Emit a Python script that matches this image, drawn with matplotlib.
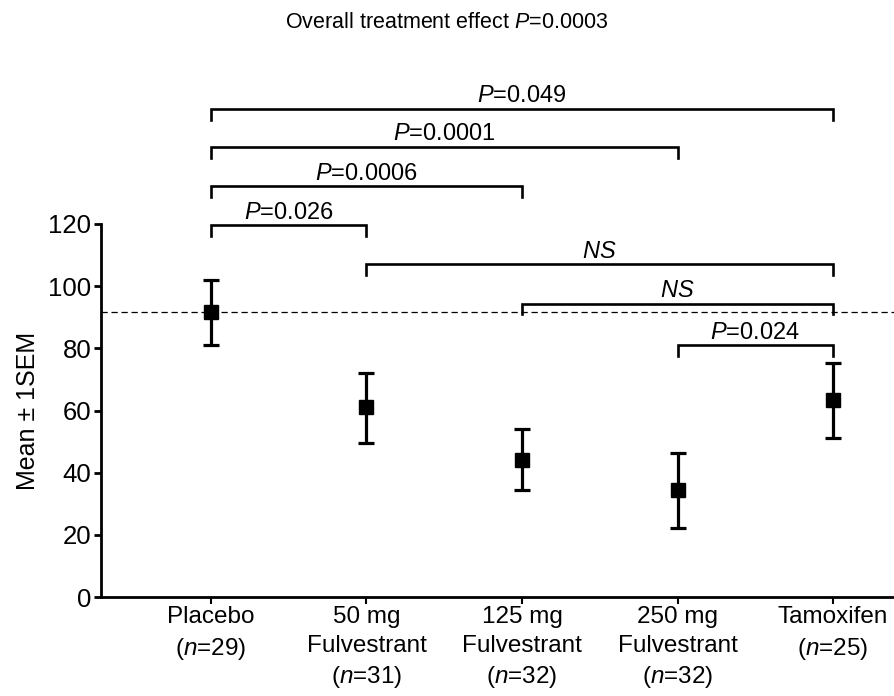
"""
Mean +/- 1SEM per treatment arm with pairwise P-value brackets
"""

import matplotlib
matplotlib.use('Agg')
import matplotlib.pyplot as plt
import numpy as np

plt.rcParams['font.family'] = 'Liberation Sans'
plt.rcParams['mathtext.fontset'] = 'custom'
plt.rcParams['mathtext.rm'] = 'Liberation Sans'
plt.rcParams['mathtext.it'] = 'Liberation Sans:italic'

GROUPS = ["Placebo\n($\\it{n}$=29)",
          "50 mg\nFulvestrant\n($\\it{n}$=31)",
          "125 mg\nFulvestrant\n($\\it{n}$=32)",
          "250 mg\nFulvestrant\n($\\it{n}$=32)",
          "Tamoxifen\n($\\it{n}$=25)"]
MEANS = [91.7, 61.2, 44.0, 34.3, 63.5]
UPPER = [101.9, 72.2, 54.1, 46.4, 75.2]
LOWER = [81.0, 49.6, 34.5, 22.2, 51.2]
BASELINE = 91.7

# (from group, to group, bracket height, label)
BRACKETS = [
    (1, 5, 157.1, "$\\it{P}$=0.049"),
    (1, 4, 144.8, "$\\it{P}$=0.0001"),
    (1, 3, 132.2, "$\\it{P}$=0.0006"),
    (1, 2, 119.7, "$\\it{P}$=0.026"),
    (2, 5, 107.1, "$\\it{NS}$"),
    (3, 5, 94.4, "$\\it{NS}$"),
    (4, 5, 81.0, "$\\it{P}$=0.024"),
]

FS = 17.5


def main():
    fig = plt.figure(figsize=(8.94, 6.96), dpi=100)
    ax = fig.add_axes([0.113, 0.1422, 0.887, 0.536])

    x = np.arange(1, len(MEANS) + 1)
    means = np.array(MEANS)
    yerr = [means - np.array(LOWER), np.array(UPPER) - means]

    ax.axhline(BASELINE, color='black', lw=0.9, ls=(0, (5, 3)), zorder=1)
    ax.errorbar(x, means, yerr=yerr, fmt='s', color='black', ms=10.5,
                elinewidth=2.3, capsize=5.5, capthick=2.3, zorder=3)

    leg = 3.5
    for a, b, h, label in BRACKETS:
        ax.plot([a, a, b, b], [h - leg, h, h, h - leg], color='black',
                lw=1.9, clip_on=False, solid_joinstyle='miter')
        ax.annotate(label, ((a + b) / 2, h), xytext=(0, 1),
                    textcoords='offset points', ha='center', va='bottom',
                    fontsize=17, annotation_clip=False)

    ax.set_xlim(0.293, 5.392)
    ax.set_ylim(0, 120)
    ax.set_xticks(x)
    ax.set_xticklabels(GROUPS, fontsize=FS, linespacing=1.4)
    ax.set_yticks(range(0, 121, 20))
    ax.tick_params(axis='y', labelsize=18.5, width=2, length=5, pad=2)
    ax.tick_params(axis='x', width=1.5, length=5, pad=1.5)
    ax.set_ylabel('Mean \u00b1 1SEM', fontsize=18, labelpad=6)

    for side in ('top', 'right'):
        ax.spines[side].set_visible(False)
    for side in ('left', 'bottom'):
        ax.spines[side].set_linewidth(2)

    fig.text(0.5, 0.968, "Overall treatment effect $\\it{P}$=0.0003",
             ha='center', va='center', fontsize=15.5)

    fig.savefig('out.png', dpi=100)


if __name__ == '__main__':
    main()
